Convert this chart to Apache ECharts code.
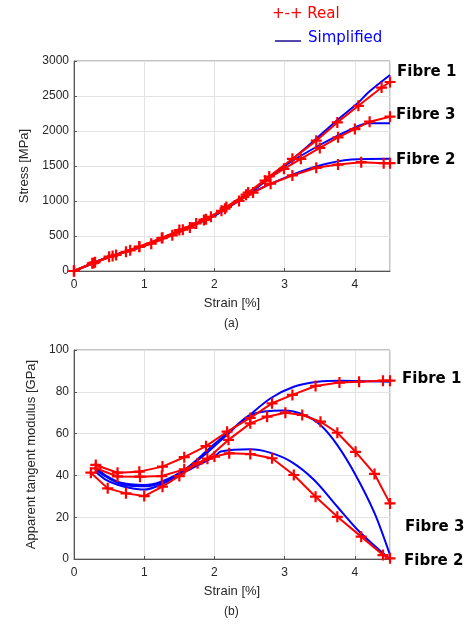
<!DOCTYPE html>
<html><head><meta charset="utf-8">
<script src="https://cdn.jsdelivr.net/npm/echarts@6/dist/echarts.min.js"></script>
<style>html,body{margin:0;padding:0;background:#fff}#c{width:476px;height:626px}</style>
</head><body><div id="c"></div>
<script>
// ---- Stress-strain (a) : [strain %, stress MPa]
const stressReal1 = [[0,0],[0.26,110],[0.5,205],[0.74,275],[0.93,345],[1.26,475],[1.5,585],[1.74,680],[1.95,775],[2.17,915],[2.48,1120],[2.78,1350],[3.11,1602],[3.45,1862],[3.75,2123],[4.05,2360],[4.38,2621],[4.5,2700]];
const stressReal3 = [[0,0],[0.3,125],[0.6,230],[0.93,350],[1.25,470],[1.55,590],[1.85,730],[2.15,890],[2.45,1090],[2.72,1290],[2.99,1460],[3.23,1602],[3.5,1758],[3.76,1910],[4.0,2028],[4.21,2133],[4.5,2204]];
const stressReal2 = [[0,0],[0.28,115],[0.55,215],[0.8,295],[1.1,390],[1.4,510],[1.65,620],[1.88,740],[2.1,860],[2.35,1000],[2.55,1120],[2.8,1247],[3.11,1365],[3.45,1474],[3.76,1521],[4.09,1554],[4.41,1540],[4.5,1540]];
const stressSimp1 = [[0,0],[0.5,200],[1,360],[1.5,570],[2,790],[2.5,1110],[3.09,1578],[3.42,1862],[3.71,2123],[4.05,2407],[4.19,2550],[4.5,2800]];
const stressSimp3 = [[0,0],[0.5,205],[1,365],[1.5,575],[2,800],[2.5,1120],[3,1500],[3.5,1800],[3.95,2028],[4.19,2109],[4.5,2109]];
const stressSimp2 = [[0,0],[0.5,200],[1,360],[1.5,570],[2,790],[2.5,1100],[3,1330],[3.45,1493],[3.95,1592],[4.5,1602]];

// ---- Apparent tangent modulus (b) : [strain %, GPa]
const modReal1 = [[0.31,45],[0.62,41.3],[0.93,41.8],[1.26,44.2],[1.57,48.7],[1.88,54],[2.18,60.9],[2.51,67.5],[2.82,74.5],[3.11,78.5],[3.44,82.8],[3.78,84.4],[4.06,84.8],[4.4,85.3],[4.5,85.3]];
const modReal3 = [[0.31,43.4],[0.62,39.5],[0.94,39.4],[1.25,39.7],[1.57,42.9],[1.9,48],[2.2,57],[2.51,64.9],[2.75,68.1],[3.01,70],[3.25,68.9],[3.51,65.7],[3.75,60.4],[4.01,51.3],[4.28,40.7],[4.5,26.6]];
const modReal2 = [[0.24,41.3],[0.48,33.8],[0.74,31.4],[1.0,30.1],[1.26,34.6],[1.5,39.7],[1.76,45.8],[2.0,49],[2.21,50.6],[2.51,50.2],[2.82,48.2],[3.13,40.2],[3.44,29.8],[3.75,20.2],[4.09,10.7],[4.4,1.9],[4.5,0.3]];
const modSimp1 = [[0.3,44],[0.45,40],[0.62,37],[0.8,35.8],[1.0,35.4],[1.24,37],[1.57,42.6],[1.9,52],[2.09,57.7],[2.47,68],[2.8,76.9],[3.13,82.4],[3.47,84.8],[3.8,85.3],[4.5,84.8]];
const modSimp3 = [[0.3,43],[0.45,39.5],[0.62,36.5],[0.8,35],[1.0,34.8],[1.24,36.5],[1.57,42.5],[1.9,51],[2.2,60],[2.51,68.9],[2.99,71],[3.28,68.9],[3.51,64.1],[3.75,54.5],[4.01,40.2],[4.28,21.9],[4.5,1.9]];
const modSimp2 = [[0.3,42],[0.45,38],[0.62,35.5],[0.8,34],[1.0,33.2],[1.25,35.8],[1.6,42],[2.0,49],[2.09,51.4],[2.51,52.5],[2.79,50.9],[3.09,46.6],[3.42,37.8],[3.75,25],[4.04,13.9],[4.32,5.1],[4.5,0]];

const xTicks = [0,1,2,3,4];
const fibreLabels = ['Fibre 1','Fibre 3','Fibre 2'];
const legendLabels = ['Real','Simplified'];

const PLUS = 'path://M4,0L6,0L6,4L10,4L10,6L6,6L6,10L4,10L4,6L0,6L0,4L4,4Z';
const RED = '#ff0000', BLUE = '#0000ff';
const tickFont = {color:'#262626', fontSize:12, fontFamily:'Liberation Sans'};

function xAxis(gi){
  return {type:'value', gridIndex:gi, min:0, max:4.5, interval:1,
    axisLine:{show:true, onZero:false, lineStyle:{color:'#555', width:1}},
    axisTick:{show:true, inside:true, length:3, lineStyle:{color:'#555'}},
    splitLine:{show:true, lineStyle:{color:'#e3e3e3', width:1}},
    axisLabel:{...tickFont, margin:8, showMaxLabel:false,
      formatter:v => xTicks.includes(v) ? String(v) : ''},
    name:'Strain [%]', nameLocation:'middle', nameGap:26,
    nameTextStyle:{color:'#262626', fontSize:13, fontFamily:'Liberation Sans'}};
}
function yAxis(gi, max, interval, name, gap){
  return {type:'value', gridIndex:gi, min:0, max:max, interval:interval,
    axisLine:{show:true, lineStyle:{color:'#555', width:1}},
    axisTick:{show:true, inside:true, length:3, lineStyle:{color:'#555'}},
    splitLine:{show:true, lineStyle:{color:'#e3e3e3', width:1}},
    axisLabel:{...tickFont, margin:5, formatter:v => String(v)},
    name:name, nameLocation:'middle', nameGap:gap, nameRotate:90,
    nameTextStyle:{color:'#262626', fontSize:13, fontFamily:'Liberation Sans'}};
}
function simp(data, xi){
  return {type:'line', xAxisIndex:xi, yAxisIndex:xi, data:data, showSymbol:false, symbol:'none',
    smooth:0.3, clip:false, lineStyle:{color:BLUE, width:2}, z:2, animation:false};
}
function real(data, xi){
  return {type:'line', xAxisIndex:xi, yAxisIndex:xi, data:data, symbol:PLUS, symbolSize:11,
    clip:false, itemStyle:{color:RED}, lineStyle:{color:RED, width:2}, z:3, animation:false};
}
const lblStyle = {font:'bold 15px "DejaVu Sans"', fill:'#000'};

const chart = echarts.init(document.getElementById('c'), null, {renderer:'canvas'});
chart.setOption({
  animation:false,
  grid:[
    {left:74, top:61, width:316, height:210, show:true, borderColor:'#888', borderWidth:1, backgroundColor:'transparent'},
    {left:74, top:350, width:316, height:209, show:true, borderColor:'#888', borderWidth:1, backgroundColor:'transparent'}
  ],
  xAxis:[xAxis(0), xAxis(1)],
  yAxis:[yAxis(0,3000,500,'Stress [MPa]',42), yAxis(1,100,20,'Apparent tangent modulus [GPa]',36)],
  series:[
    simp(stressSimp1,0), simp(stressSimp3,0), simp(stressSimp2,0),
    real(stressReal1,0), real(stressReal3,0), real(stressReal2,0),
    simp(modSimp1,1), simp(modSimp3,1), simp(modSimp2,1),
    real(modReal1,1), real(modReal3,1), real(modReal2,1)
  ],
  graphic:[
    {type:'text', left:272, top:7, style:{text:'+-+ '+legendLabels[0], font:'15px "DejaVu Sans"', fill:RED}},
    {type:'line', shape:{x1:275, y1:41, x2:301, y2:41}, style:{stroke:'#1a0a8c', lineWidth:1.5}},
    {type:'text', left:308, top:31, style:{text:legendLabels[1], font:'15px "DejaVu Sans"', fill:BLUE}},
    {type:'text', left:397, top:65, style:{text:fibreLabels[0], ...lblStyle}},
    {type:'text', left:396, top:108, style:{text:fibreLabels[1], ...lblStyle}},
    {type:'text', left:396, top:153, style:{text:fibreLabels[2], ...lblStyle}},
    {type:'text', left:402, top:372, style:{text:fibreLabels[0], ...lblStyle}},
    {type:'text', left:405, top:520, style:{text:fibreLabels[1], ...lblStyle}},
    {type:'text', left:404, top:554, style:{text:fibreLabels[2], ...lblStyle}},
    {type:'text', left:224, top:318, style:{text:'(a)', font:'12px "Liberation Sans"', fill:'#262626'}},
    {type:'text', left:224, top:606, style:{text:'(b)', font:'12px "Liberation Sans"', fill:'#262626'}}
  ]
});
</script></body></html>
